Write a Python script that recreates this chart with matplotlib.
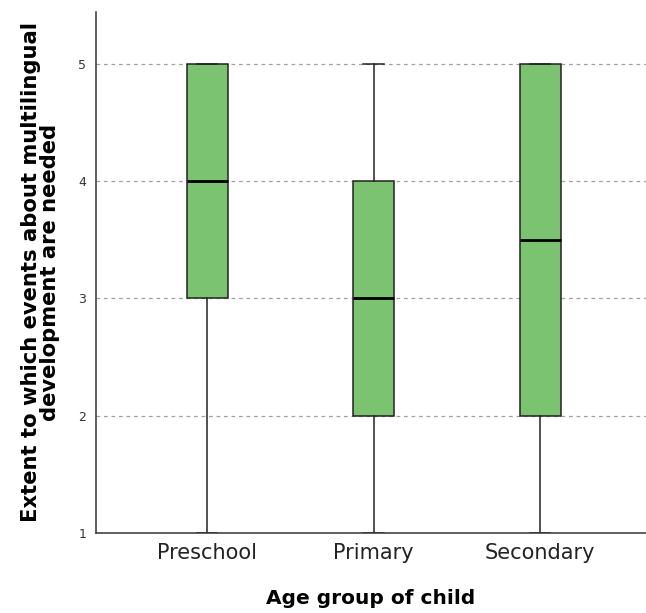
import matplotlib.pyplot as plt

# Box statistics per age group (Likert scale 1-5)
groups = ['Preschool', 'Primary', 'Secondary']
whisker_low = [1, 1, 1]
q1 = [3, 2, 2]
medians = [4, 3, 3.5]
q3 = [5, 4, 5]
whisker_high = [5, 5, 5]

box_color = '#7cc371'

stats = []
for name, lo, a, m, b, hi in zip(groups, whisker_low, q1, medians, q3, whisker_high):
    stats.append({'label': name, 'whislo': lo, 'q1': a, 'med': m, 'q3': b,
                  'whishi': hi, 'fliers': []})

fig = plt.figure(figsize=(6.46, 6.13), dpi=100)
ax = fig.add_axes([96 / 646, 80 / 613, 1 - 96 / 646, 521 / 613])

# dashed reference lines behind the boxes
for y in [2, 3, 4, 5]:
    ax.axhline(y, color='#a0a0a0', lw=0.9, ls=(0, (3, 3)), zorder=0)

ax.bxp(stats, positions=[1, 2, 3], widths=0.246, patch_artist=True,
       showfliers=False,
       boxprops=dict(facecolor=box_color, edgecolor='#222222', linewidth=1.1),
       medianprops=dict(color='black', linewidth=2),
       whiskerprops=dict(color='#222222', linewidth=1.1),
       capprops=dict(color='#222222', linewidth=1.1))

ax.set_xlim(0.333, 3.636)
ax.set_ylim(1, 5.44)
ax.set_yticks([1, 2, 3, 4, 5])
ax.set_yticklabels(['1', '2', '3', '4', '5'], fontsize=9, color='#333333')
ax.set_xticks([1, 2, 3])
ax.set_xticklabels(groups, fontsize=15, color='#222222')
ax.tick_params(axis='both', length=0)
ax.tick_params(axis='y', pad=7)
ax.tick_params(axis='x', pad=7)

for side in ['top', 'right']:
    ax.spines[side].set_visible(False)
for side in ['left', 'bottom']:
    ax.spines[side].set_color('#333333')
    ax.spines[side].set_linewidth(1.1)

ax.set_xlabel('Age group of child', fontsize=14.5, fontweight='bold', labelpad=19)
ax.set_ylabel('Extent to which events about multilingual\ndevelopment are needed',
              fontsize=15.2, fontweight='bold', labelpad=13, linespacing=0.95)

fig.savefig('out.png', dpi=100)
